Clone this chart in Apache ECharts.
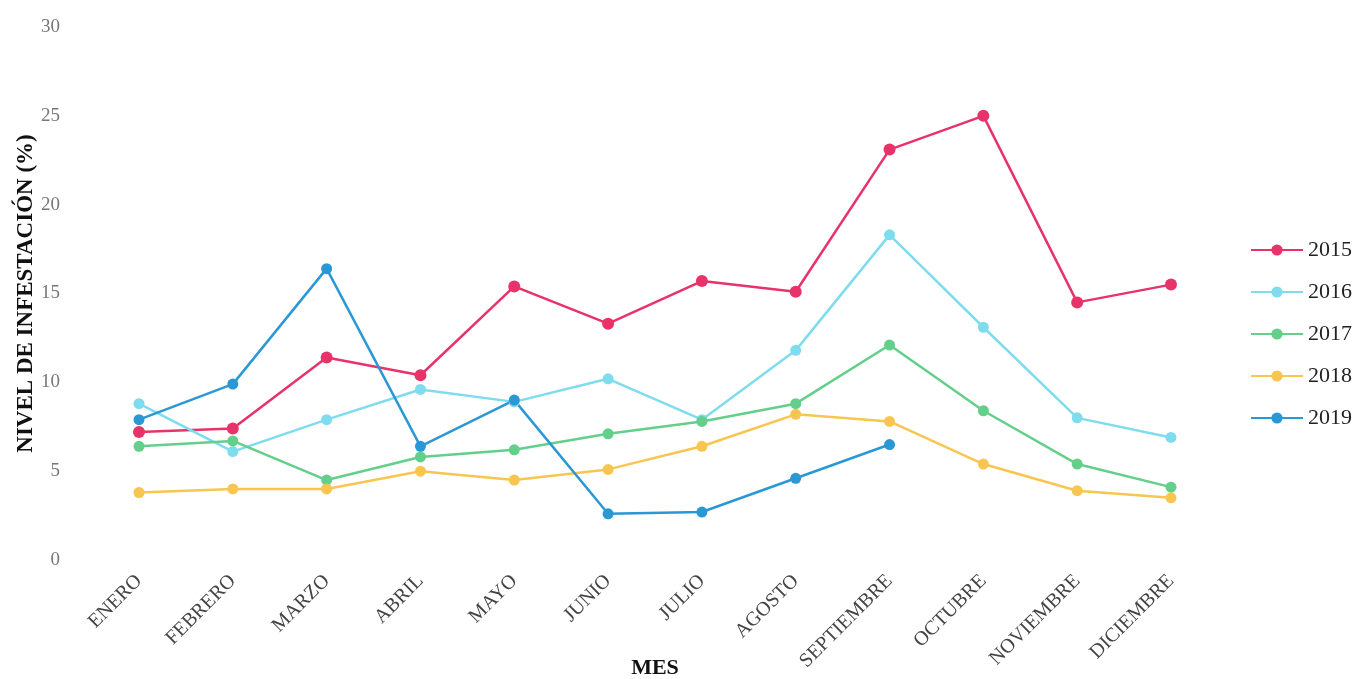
<!DOCTYPE html>
<html>
<head>
<meta charset="utf-8">
<script src="https://cdn.jsdelivr.net/npm/echarts@6/dist/echarts.min.js"></script>
<style>
  html, body { margin: 0; padding: 0; background: #fff; }
  #chart { width: 1361px; height: 679px; }
</style>
</head>
<body>
<div id="chart"></div>
<script>
const meses = ["ENERO", "FEBRERO", "MARZO", "ABRIL", "MAYO", "JUNIO", "JULIO",
  "AGOSTO", "SEPTIEMBRE", "OCTUBRE", "NOVIEMBRE", "DICIEMBRE"];

const y2015 = [7.2, 7.4, 11.4, 10.4, 15.4, 13.3, 15.7, 15.1, 23.1, 25.0, 14.5, 15.5];
const y2016 = [8.8, 6.1, 7.9, 9.6, 8.9, 10.2, 7.9, 11.8, 18.3, 13.1, 8.0, 6.9];
const y2017 = [6.4, 6.7, 4.5, 5.8, 6.2, 7.1, 7.8, 8.8, 12.1, 8.4, 5.4, 4.1];
const y2018 = [3.8, 4.0, 4.0, 5.0, 4.5, 5.1, 6.4, 8.2, 7.8, 5.4, 3.9, 3.5];
const y2019 = [7.9, 9.9, 16.4, 6.4, 9.0, 2.6, 2.7, 4.6, 6.5, null, null, null];

const SERIF = "'Liberation Serif', 'DejaVu Serif', serif";

const chart = echarts.init(document.getElementById("chart"));

// una serie por año
const mkLine = (name, data, color, size) => ({
  name: name,
  type: "line",
  data: data,
  symbol: "circle",
  symbolSize: size,
  lineStyle: { width: 2.5, color: color },
  itemStyle: { color: color },
  connectNulls: false,
});

const option = {
  animation: false,
  grid: { left: 139, right: 190, top: 27, bottom: 119, outerBoundsMode: "none" },
  xAxis: {
    type: "category",
    data: meses,
    boundaryGap: false,
    name: "MES",
    nameLocation: "middle",
    nameGap: 97,
    nameMoveOverlap: false,
    nameTextStyle: { fontFamily: SERIF, fontWeight: "bold", fontSize: 22, color: "#111" },
    axisLine: { show: false },
    axisTick: { show: false },
    splitLine: { show: false },
    axisLabel: {
      rotate: 45,
      margin: 18,
      interval: 0,
      fontFamily: SERIF,
      fontSize: 20,
      color: "#444",
    },
  },
  yAxis: {
    type: "value",
    min: 0,
    max: 30,
    interval: 5,
    name: "NIVEL DE INFESTACIÓN (%)",
    nameLocation: "middle",
    nameRotate: 90,
    nameGap: 101,
    nameMoveOverlap: false,
    nameTextStyle: { fontFamily: SERIF, fontWeight: "bold", fontSize: 23, color: "#111" },
    axisLine: { show: false },
    axisTick: { show: false },
    splitLine: { show: false },
    axisLabel: {
      margin: 79,
      fontFamily: SERIF,
      fontSize: 19,
      color: "#777",
    },
  },
  legend: {
    orient: "vertical",
    left: 1245,
    top: 234,
    itemWidth: 52,
    itemHeight: 14,
    itemGap: 20,
    textStyle: { fontFamily: SERIF, fontSize: 22, color: "#222", lineHeight: 22 },
    data: ["2015", "2016", "2017", "2018", "2019"],
  },
  series: [
    mkLine("2015", y2015, "#e8336a", 12),
    mkLine("2016", y2016, "#7fdcee", 11),
    mkLine("2017", y2017, "#63cf8a", 11),
    mkLine("2018", y2018, "#f8c650", 11),
    mkLine("2019", y2019, "#2a98d5", 11),
  ],
};

chart.setOption(option);
window.addEventListener("resize", () => chart.resize());
</script>
</body>
</html>
